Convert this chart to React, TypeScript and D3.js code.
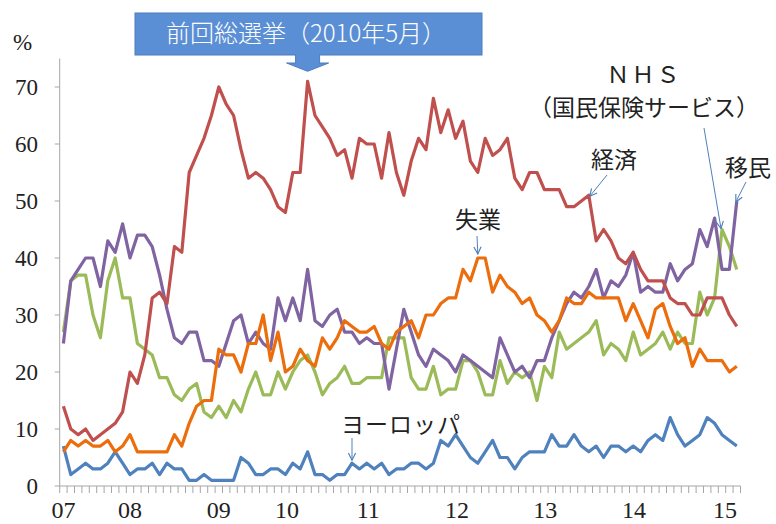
import React, { useEffect, useRef } from "react";
import * as d3 from "d3";

const W = 776;
const H = 524;

// year labels and the category index they sit at
const yearLabels = ["07", "08", "09", "10", "11", "12", "13", "14", "15"];
const yearAt = [0, 9, 21, 30.2, 41.2, 53.2, 65.1, 77.1, 89.4];
const yTicks = [0, 10, 20, 30, 40, 50, 60, 70];

// 経済
const economy = [
  14, 10, 9, 10, 8, 9, 10, 11, 13, 20, 18, 23, 33, 34, 32, 42, 41, 55, 58, 61,
  65, 70, 67, 65, 59, 54, 55, 54, 52, 49, 48, 55, 55, 71, 65, 63, 61, 58, 59, 54,
  61, 60, 60, 54, 62, 55, 51, 57, 61, 59, 68, 62, 66, 61, 64, 57, 55, 61, 58, 59,
  61, 54, 52, 55, 55, 52, 52, 52, 49, 49, 50, 51, 43, 45, 43, 40, 39, 41, 38, 36,
  36, 36, 33, 32, 32, 30, 30, 33, 33, 33, 30, 28,
];
// 移民
const immigration = [
  25, 36, 38, 40, 40, 35, 43, 41, 46, 40, 44, 44, 42, 37, 31, 26, 25, 27, 27, 22,
  22, 21, 25, 29, 30, 25, 27, 25, 24, 33, 29, 33, 29, 38, 29, 28, 30, 31, 27, 27,
  25, 26, 25, 25, 17, 24, 31, 27, 23, 21, 24, 23, 22, 20, 23, 22, 21, 20, 19, 26,
  23, 20, 21, 19, 22, 22, 26, 29, 32, 34, 33, 35, 38, 33, 36, 35, 37, 41, 34, 35,
  34, 34, 39, 36, 38, 39, 45, 42, 47, 38, 38, 50,
];
// NHS
const nhs = [
  27, 36, 37, 37, 30, 26, 36, 40, 33, 33, 25, 24, 23, 19, 19, 16, 15, 17, 18, 13,
  12, 14, 12, 15, 13, 17, 20, 16, 16, 20, 17, 20, 22, 23, 20, 16, 18, 19, 21, 18,
  18, 19, 19, 19, 26, 26, 26, 19, 17, 17, 21, 16, 17, 17, 22, 22, 20, 16, 16, 22,
  18, 20, 19, 20, 15, 21, 19, 27, 24, 25, 26, 27, 29, 23, 25, 24, 22, 27, 23, 24,
  25, 27, 24, 27, 25, 25, 34, 30, 33, 45, 42, 38,
];
// 失業
const unemployment = [
  6, 8, 7, 8, 7, 7, 8, 6, 7, 9, 6, 6, 6, 6, 6, 9, 7, 11, 14, 15,
  15, 24, 23, 23, 20, 25, 25, 30, 22, 27, 20, 21, 24, 22, 21, 26, 24, 26, 29, 28,
  27, 27, 28, 25, 24, 27, 28, 29, 26, 30, 30, 32, 33, 33, 38, 36, 40, 40, 34, 37,
  35, 34, 32, 33, 30, 29, 27, 29, 33, 32, 32, 34, 33, 33, 33, 33, 29, 32, 29, 26,
  31, 32, 28, 25, 26, 21, 24, 22, 22, 22, 20, 21,
];
// ヨーロッパ
const europe = [
  7, 2, 3, 4, 3, 3, 4, 6, 4, 2, 3, 3, 4, 2, 4, 3, 3, 1, 1, 2,
  1, 1, 1, 1, 5, 4, 2, 2, 3, 3, 2, 4, 3, 6, 2, 2, 1, 2, 2, 4,
  3, 4, 3, 4, 2, 3, 3, 4, 4, 3, 4, 8, 7, 9, 7, 5, 4, 6, 8, 5,
  5, 3, 5, 6, 6, 6, 9, 7, 7, 9, 7, 6, 7, 5, 7, 7, 6, 7, 6, 8,
  9, 8, 12, 9, 7, 8, 9, 12, 11, 9, 8, 7,
];

const series = [
  { name: "ヨーロッパ", values: europe, color: "#4f81bd" },
  { name: "NHS", values: nhs, color: "#9bbb59" },
  { name: "移民", values: immigration, color: "#8064a2" },
  { name: "失業", values: unemployment, color: "#ec6d0c" },
  { name: "経済", values: economy, color: "#c0504d" },
];

const serifFont = "'Liberation Serif', 'DejaVu Serif', serif";
const jpFont = "'Noto Sans CJK JP', sans-serif";

function drawChart(node: SVGSVGElement) {
  const svg = d3.select(node);
  svg.selectAll("*").remove();

  const n = economy.length;
  const x = d3.scaleLinear().domain([-0.5, n - 0.5]).range([59.7, 740.5]);
  const y = d3.scaleLinear().domain([0, 70]).range([486, 87]);

  svg.append("rect").attr("width", W).attr("height", H).attr("fill", "#fff");

  const defs = svg.append("defs");
  defs
    .append("marker")
    .attr("id", "head")
    .attr("viewBox", "0 0 10 10")
    .attr("refX", 9)
    .attr("refY", 5)
    .attr("markerWidth", 9)
    .attr("markerHeight", 9)
    .attr("markerUnits", "userSpaceOnUse")
    .attr("orient", "auto")
    .append("path")
    .attr("d", "M1,1 L9,5 L1,9")
    .attr("fill", "none")
    .attr("stroke", "#4f81bd")
    .attr("stroke-width", 1.3);

  // axes
  const axisColor = "#a6a6a6";
  svg
    .append("line")
    .attr("x1", x(-0.5))
    .attr("x2", x(-0.5))
    .attr("y1", y(75))
    .attr("y2", y(0))
    .attr("stroke", axisColor);
  svg
    .selectAll(".ytick")
    .data(yTicks)
    .enter()
    .append("line")
    .attr("x1", x(-0.5) - 5)
    .attr("x2", x(-0.5))
    .attr("y1", (d) => y(d))
    .attr("y2", (d) => y(d))
    .attr("stroke", axisColor);
  svg
    .selectAll(".ylab")
    .data(yTicks)
    .enter()
    .append("text")
    .attr("x", 38)
    .attr("y", (d) => y(d))
    .attr("dy", "0.35em")
    .attr("text-anchor", "end")
    .style("font-family", serifFont)
    .style("font-size", "23px")
    .attr("fill", "#222")
    .text((d) => d);

  svg
    .append("line")
    .attr("x1", x(-0.5))
    .attr("x2", x(n - 0.5))
    .attr("y1", y(0))
    .attr("y2", y(0))
    .attr("stroke", axisColor);
  svg
    .selectAll(".xtick")
    .data(d3.range(n + 1))
    .enter()
    .append("line")
    .attr("x1", (d) => x(d - 0.5))
    .attr("x2", (d) => x(d - 0.5))
    .attr("y1", y(0))
    .attr("y2", y(0) + 7)
    .attr("stroke", axisColor);
  svg
    .selectAll(".xlab")
    .data(yearLabels)
    .enter()
    .append("text")
    .attr("x", (d, i) => x(yearAt[i]))
    .attr("y", 518)
    .attr("text-anchor", "middle")
    .style("font-family", serifFont)
    .style("font-size", "24px")
    .attr("fill", "#222")
    .text((d) => d);

  svg
    .append("text")
    .attr("x", 13)
    .attr("y", 50)
    .style("font-family", serifFont)
    .style("font-size", "23px")
    .attr("fill", "#222")
    .text("%");

  // lines
  const line = d3
    .line<number>()
    .x((d, i) => x(i))
    .y((d) => y(d));

  series.forEach((s) => {
    svg
      .append("path")
      .datum(s.values)
      .attr("d", line)
      .attr("fill", "none")
      .attr("stroke", s.color)
      .attr("stroke-width", 3.2)
      .attr("stroke-linejoin", "round");
  });

  // election banner
  const ex = x(33);
  svg
    .append("rect")
    .attr("x", 135)
    .attr("y", 13)
    .attr("width", 347)
    .attr("height", 42)
    .attr("fill", "#5b8fd5")
    .attr("stroke", "#4a7cc0");
  svg
    .append("path")
    .attr(
      "d",
      `M${ex - 12},55 L${ex + 12},55 L${ex + 12},63 L${ex + 21},63 L${ex},${y(71) - 10} L${ex - 21},63 L${ex - 12},63 Z`
    )
    .attr("fill", "#5b8fd5")
    .attr("stroke", "#4a7cc0");
  svg
    .append("rect")
    .attr("x", ex - 11.5)
    .attr("y", 53)
    .attr("width", 23)
    .attr("height", 3)
    .attr("fill", "#5b8fd5");
  svg
    .append("text")
    .attr("x", 306)
    .attr("y", 42)
    .attr("text-anchor", "middle")
    .style("font-family", jpFont)
    .style("font-size", "24px")
    .style("font-weight", 300)
    .attr("fill", "#fff")
    .text("前回総選挙（2010年5月）");

  // annotations
  const label = (t: string, cx: number, by: number, spacing = 0) =>
    svg
      .append("text")
      .attr("x", cx)
      .attr("y", by)
      .attr("text-anchor", "middle")
      .style("font-family", jpFont)
      .style("font-size", "23px")
      .style("letter-spacing", `${spacing}px`)
      .attr("fill", "#222")
      .text(t);

  const arrow = (x1: number, y1: number, x2: number, y2: number) =>
    svg
      .append("line")
      .attr("x1", x1)
      .attr("y1", y1)
      .attr("x2", x2)
      .attr("y2", y2)
      .attr("stroke", "#4f81bd")
      .attr("stroke-width", 1)
      .attr("marker-end", "url(#head)");

  label("ＮＨＳ", 644, 83, 2);
  label("（国民保険サービス）", 644, 116);
  label("経済", 614, 168);
  label("移民", 748, 176);
  label("失業", 478, 228);
  label("ヨーロッパ", 401, 433, 1);

  arrow(477, 236, x(56), y(unemployment[56]) - 4);
  arrow(x(39), 438, x(39), y(europe[39]) - 3);
  arrow(607, 175, x(71) + 1, y(economy[71]) + 1);
  arrow(704, 128, x(89) - 1, y(nhs[89]) - 1);
  arrow(746, 182, x(91) - 1, y(immigration[91]) + 1);
}

export default function App() {
  const ref = useRef<SVGSVGElement>(null);
  useEffect(() => {
    if (ref.current) drawChart(ref.current);
  }, []);
  return (
    <svg
      ref={ref}
      width={W}
      height={H}
      style={{ position: "absolute", left: 0, top: 0 }}
    />
  );
}
